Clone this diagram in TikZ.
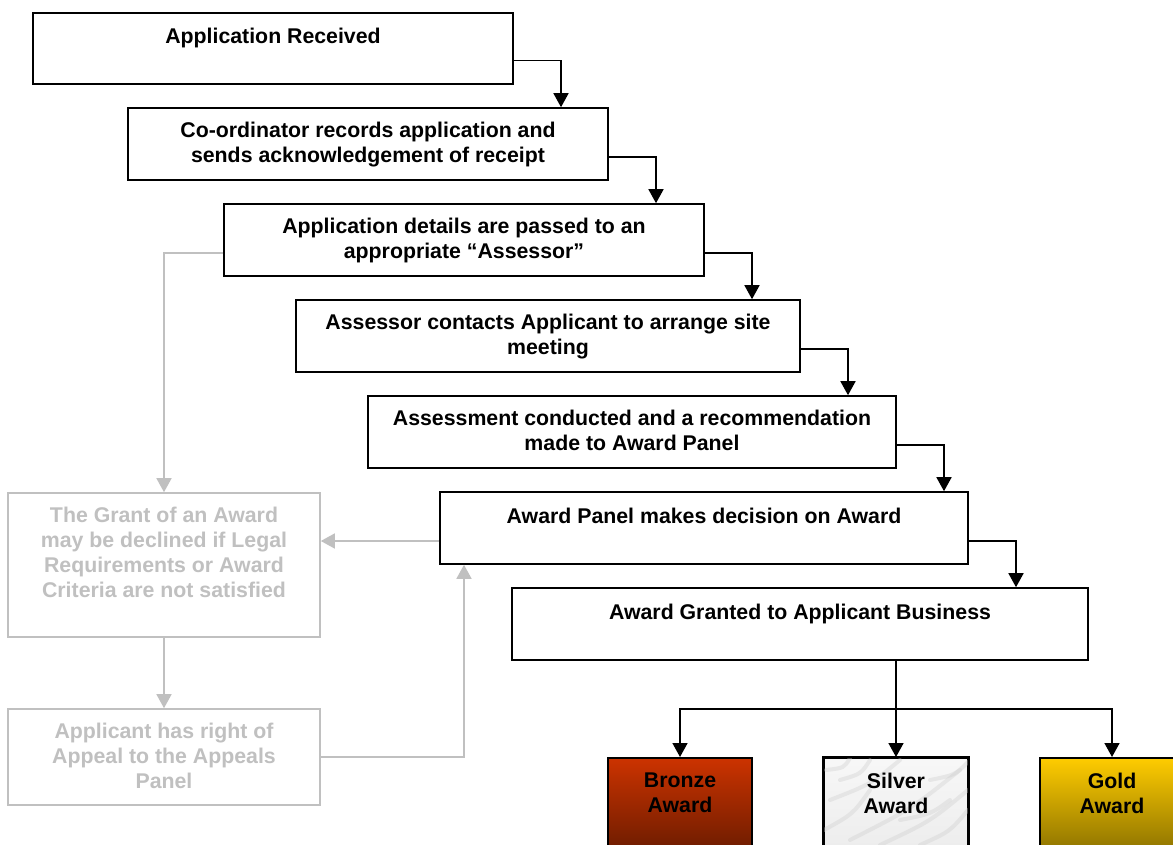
\documentclass[tikz,border=0pt]{standalone}
\usepackage{fontspec}
\setmainfont{Liberation Sans}
\usetikzlibrary{arrows.meta,calc}
\definecolor{lg}{HTML}{C0C0C0}
\definecolor{bronzeTop}{HTML}{CC3300}
\definecolor{bronzeBot}{HTML}{5C1800}
\definecolor{goldTop}{HTML}{FFCC00}
\definecolor{goldBot}{HTML}{7A6400}
\tikzset{
  box/.style={draw=black, line width=1.6pt, fill=white, inner sep=0pt, minimum width=#1, minimum height=72pt},
  gbox/.style={draw=lg, line width=1.6pt, fill=white, inner sep=0pt, minimum width=312pt},
  txt/.style={font=\fontsize{21.3}{25}\selectfont\bfseries, align=center, inner sep=0pt, anchor=north},
  gtxt/.style={txt, text=lg},
  conn/.style={line width=1.6pt, -{Triangle[width=15pt,length=14pt]}},
  gconn/.style={line width=1.6pt, draw=lg, -{Triangle[width=15pt,length=14pt]}, color=lg},
  award/.style={draw=black, line width=1.6pt, inner sep=0pt, minimum width=144pt, minimum height=110pt, anchor=north},
}
\begin{document}
\begin{tikzpicture}[x=1pt,y=-1pt]
\useasboundingbox (0,0) rectangle (1173,845);
% main boxes
\node[box=480pt, minimum height=71pt] (b1) at (273,48.5) {};
\node[box=480pt] (b2) at (368,144) {};
\node[box=480pt] (b3) at (464,240) {};
\node[box=504pt] (b4) at (548,336) {};
\node[box=528pt] (b5) at (632,432) {};
\node[box=528pt] (b6) at (704,528) {};
\node[box=576pt] (b7) at (800,624) {};
\node[txt] (t1) at ([yshift=-16pt]b1.north) {Application Received};
\node[txt] (t2) at ([yshift=-15pt]b2.north) {Co-ordinator records application and\\sends acknowledgement of receipt};
\node[txt] (t3) at ([yshift=-15pt]b3.north) {Application details are passed to an\\appropriate “Assessor”};
\node[txt] (t4) at ([yshift=-15pt]b4.north) {Assessor contacts Applicant to arrange site\\meeting};
\node[txt] (t5) at ([yshift=-15pt]b5.north) {Assessment conducted and a recommendation\\made to Award Panel};
\node[txt] (t6) at ([yshift=-17pt]b6.north) {Award Panel makes decision on Award};
\node[txt] (t7) at ([yshift=-17pt]b7.north) {Award Granted to Applicant Business};
% grey boxes
\node[gbox, minimum height=144pt] (ga) at (164,565) {};
\node[gbox, minimum height=96pt] (gb) at (164,757) {};
\node[gtxt] (tga) at ([yshift=-15pt]ga.north) {The Grant of an Award\\may be declined if Legal\\Requirements or Award\\Criteria are not satisfied};
\node[gtxt] (tgb) at ([yshift=-15pt]gb.north) {Applicant has right of\\Appeal to the Appeals\\Panel};
% award boxes
\node[award, top color=bronzeTop, bottom color=bronzeBot] (br) at (680,757) {};
\node[award, top color=goldTop, bottom color=goldBot] (go) at (1112,757) {};
\node[award, top color=gray!6, bottom color=gray!16] (si) at (896,757) {};
\begin{scope}
\clip (si.north west) rectangle (si.south east);
\foreach \a/\b/\c/\d in {830/800/900/760, 850/840/960/770, 880/845/968/790, 824/830/870/790, 900/820/950/800, 840/780/870/760, 920/845/968/810, 826/770/850/758, 930/780/968/762}{
  \draw[gray!40, line width=4pt, opacity=0.35, line cap=round] (\a,\b) .. controls (\a/2+\c/2+6,\b/2+\d/2+4) .. (\c,\d);
}
\end{scope}
\draw[line width=1.6pt] (si.north west) rectangle (si.south east);
\node[txt] (tbr) at ([yshift=-16pt]br.north) {Bronze\\Award};
\node[txt] (tsi) at ([yshift=-16pt]si.north) {Silver\\Award};
\node[txt] (tgo) at ([yshift=-16pt]go.north) {Gold\\Award};
% black connectors
\draw[conn] ([yshift=-12pt]b1.east) -| ([xshift=193pt]b2.north);
\draw[conn] ([yshift=-13pt]b2.east) -| ([xshift=192pt]b3.north);
\draw[conn] ([yshift=-13pt]b3.east) -| ([xshift=204pt]b4.north);
\draw[conn] ([yshift=-13pt]b4.east) -| ([xshift=216pt]b5.north);
\draw[conn] ([yshift=-13pt]b5.east) -| ([xshift=240pt]b6.north);
\draw[conn] ([yshift=-13pt]b6.east) -| ([xshift=216pt]b7.north);
\coordinate (split) at ($(b7.south)+(96,48)$);
\draw[line width=1.6pt] ([xshift=96pt]b7.south) -- (split);
\draw[conn] (split) -| (br.north);
\draw[conn] (split) -- (si.north);
\draw[conn] (split) -| (go.north);
% grey connectors
\draw[gconn] ([yshift=-13pt]b3.west) -| (ga.north);
\draw[gconn] ([yshift=-13pt]b6.west) -- ([yshift=-13pt]b6.west -| ga.east);
\draw[gconn] (ga.south) -- (gb.north);
\draw[gconn] (gb.east) -| ([xshift=-240pt]b6.south);
\end{tikzpicture}
\end{document}
